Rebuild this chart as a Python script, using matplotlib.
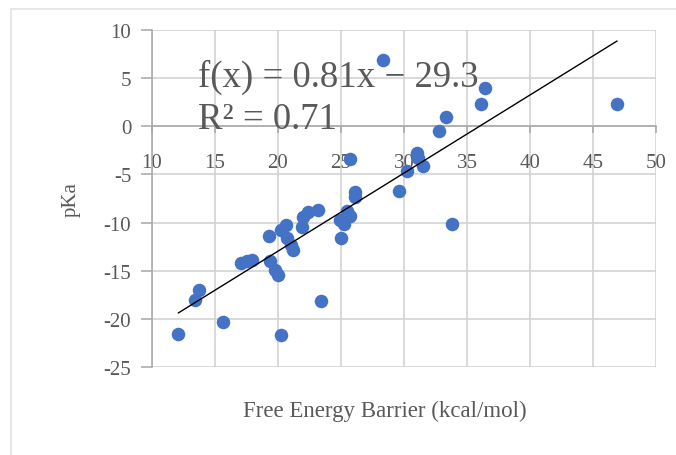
import numpy as np
import matplotlib
matplotlib.use("Agg")
import matplotlib.pyplot as plt
from matplotlib.patches import Rectangle

# barreira de energia livre (kcal/mol) e pKa
barrier = [12.1, 13.4, 13.7, 15.6, 17.1, 17.5, 17.9, 19.4, 19.8, 20.0,
           20.2, 23.4, 19.3, 20.2, 20.6, 20.7, 21.0, 21.2, 21.9, 22.0,
           22.4, 23.2, 24.9, 25.0, 25.2, 25.5, 25.7, 25.7, 26.1, 26.1,
           28.3, 29.6, 30.2, 31.0, 31.1, 31.5, 32.8, 33.3, 33.8, 36.1,
           36.4, 46.9]
pka = [-21.6, -18.0, -17.0, -20.3, -14.2, -14.0, -13.9, -14.0, -14.9, -15.4,
       -21.7, -18.1, -11.4, -10.8, -10.3, -11.6, -12.3, -12.8, -10.5, -9.4,
       -8.9, -8.7, -9.7, -11.6, -10.1, -8.8, -9.3, -3.4, -6.8, -7.3,
       6.9, -6.7, -4.6, -2.8, -3.3, -4.1, -0.5, 1.0, -10.1, 2.3,
       4.0, 2.3]

eq_text = "f(x) = 0.81x − 29.3"
r2_text = "R² = 0.71"

plt.rcParams['font.family'] = ['Liberation Serif', 'DejaVu Serif']
plt.rcParams['axes.unicode_minus'] = False

grey = '#595959'
fig = plt.figure(figsize=(6.76, 4.56), dpi=100)
ax = fig.add_axes([152/676, 1 - 368/456, 504/676, 337/456])

# borda clara do grafico
fig.patches.append(Rectangle((11/676, -0.1), 1.2, 1 - 10/456 + 0.1,
                             transform=fig.transFigure, fill=False,
                             edgecolor='#e3e3e3', lw=1.2, zorder=0))

ax.scatter(barrier, pka, s=95, color='#4472C4', zorder=3, linewidths=0)

# linha de tendencia
coef = np.polyfit(barrier, pka, 1)
xs = np.array([min(barrier), max(barrier)])
ax.plot(xs, np.polyval(coef, xs), color='black', lw=1.0, zorder=4)

ax.set_xlim(10, 50)
ax.set_ylim(-25, 10)
ax.set_xticks(range(10, 51, 5))
ax.set_yticks(range(-25, 11, 5))
ax.grid(True, color='#d0d0d0', lw=1.1)
ax.set_axisbelow(True)

for s in ['top', 'right']:
    ax.spines[s].set_visible(False)
ax.spines['bottom'].set_position(('data', 0))
ax.spines['bottom'].set_color('#a6a6a6')
ax.spines['left'].set_color('#a6a6a6')
ax.spines['bottom'].set_linewidth(1.1)
ax.spines['left'].set_linewidth(1.1)

ax.tick_params(axis='x', direction='out', length=5, width=1.1, color='#a6a6a6',
               pad=14, labelsize=15, labelcolor=grey)
ax.tick_params(axis='y', direction='out', length=8, width=1.1, color='#a6a6a6',
               pad=7, labelsize=15, labelcolor=grey)

ax.text(198/676, 1 - 87/456, eq_text, transform=fig.transFigure,
        fontsize=26.5, color=grey, va='baseline', zorder=5)
ax.text(198/676, 1 - 129/456, r2_text, transform=fig.transFigure,
        fontsize=26.5, color=grey, va='baseline', zorder=5)

fig.text(71/676, 1 - 200/456, 'pKa', rotation=90, ha='center', va='center',
         fontsize=15, color=grey)
fig.text(385/676, 1 - 411/456, 'Free Energy Barrier (kcal/mol)', ha='center',
         va='center', fontsize=16.5, color=grey)

fig.savefig('out.png', dpi=100)
